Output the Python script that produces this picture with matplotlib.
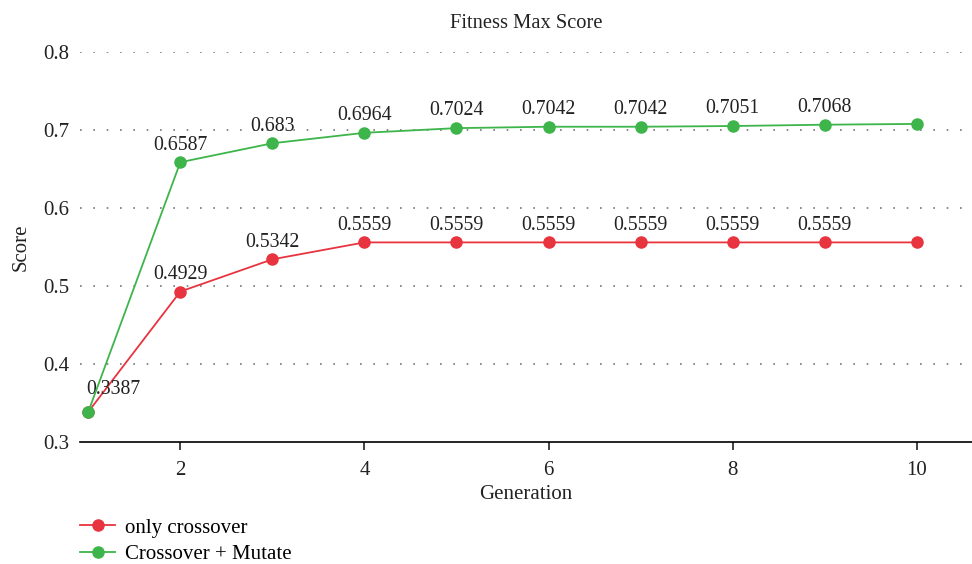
import matplotlib
matplotlib.use("Agg")
import matplotlib.pyplot as plt

plt.rcParams['font.family'] = ['Liberation Serif', 'DejaVu Serif']

generations = [1, 2, 3, 4, 5, 6, 7, 8, 9, 10]
only_crossover = [0.3387, 0.4929, 0.5342, 0.5559, 0.5559, 0.5559, 0.5559, 0.5559, 0.5559, 0.5559]
cross_mutate = [0.3387, 0.6587, 0.683, 0.6964, 0.7024, 0.7042, 0.7042, 0.7051, 0.7068, 0.7078]
red_labels = ["0.3387", "0.4929", "0.5342", "0.5559", "0.5559", "0.5559", "0.5559", "0.5559", "0.5559", ""]
green_labels = ["", "0.6587", "0.683", "0.6964", "0.7024", "0.7042", "0.7042", "0.7051", "0.7068", ""]
xticks = [2, 4, 6, 8, 10]
yticks = [0.3, 0.4, 0.5, 0.6, 0.7, 0.8]

red = '#e8343f'
green = '#3db54a'
txt = '#222222'

fig = plt.figure(figsize=(9.72, 5.64), dpi=100)
ax = fig.add_axes([0.0823, 0.2163, 0.9177, 0.6915])

ax.plot(generations, only_crossover, color=red, lw=1.3, marker='o', ms=8, label='only crossover', zorder=3)
ax.plot(generations, cross_mutate, color=green, lw=1.3, marker='o', ms=8, label='Crossover + Mutate', zorder=4)

lab_fs = 14.3
for x, y, t in zip(generations, only_crossover, red_labels):
    if not t:
        continue
    if x == 1:
        ax.annotate(t, (x, y), xytext=(18, 16), textcoords='offset points', ha='center', va='center', fontsize=lab_fs, color=txt)
    else:
        ax.annotate(t, (x, y), xytext=(0, 5.5), textcoords='offset points', ha='center', va='bottom', fontsize=lab_fs, color=txt)
for x, y, t in zip(generations, cross_mutate, green_labels):
    if not t:
        continue
    ax.annotate(t, (x, y), xytext=(0, 5.5), textcoords='offset points', ha='center', va='bottom', fontsize=lab_fs, color=txt)

ax.set_xlim(0.91, 10.6)
ax.set_ylim(0.3, 0.8)
ax.set_xticks(xticks)
ax.set_yticks(yticks)
ax.set_yticklabels([f"{v:.1f}" for v in yticks])
for yv in yticks[1:]:
    ax.axhline(yv, color='#777777', lw=1.2, ls=(0, (1, 7)), zorder=1)

for s in ['top', 'right', 'left']:
    ax.spines[s].set_visible(False)
ax.spines['bottom'].set_linewidth(1.2)
ax.tick_params(axis='y', length=0, labelsize=15, pad=8, colors=txt)
ax.tick_params(axis='x', length=6, width=1.2, labelsize=15, colors=txt, pad=7.5)

ax.set_title('Fitness Max Score', fontsize=14.8, pad=17.5, color=txt)
ax.set_xlabel('Generation', fontsize=15, labelpad=3.5, color=txt)
ax.set_ylabel('Score', fontsize=15, color=txt, labelpad=9)

ax.legend(loc='upper left', bbox_to_anchor=(-0.009, -0.174), frameon=False, fontsize=15,
          handlelength=1.68, handletextpad=0.48, labelspacing=0.33, borderaxespad=0)

fig.savefig('out.png', dpi=100)
